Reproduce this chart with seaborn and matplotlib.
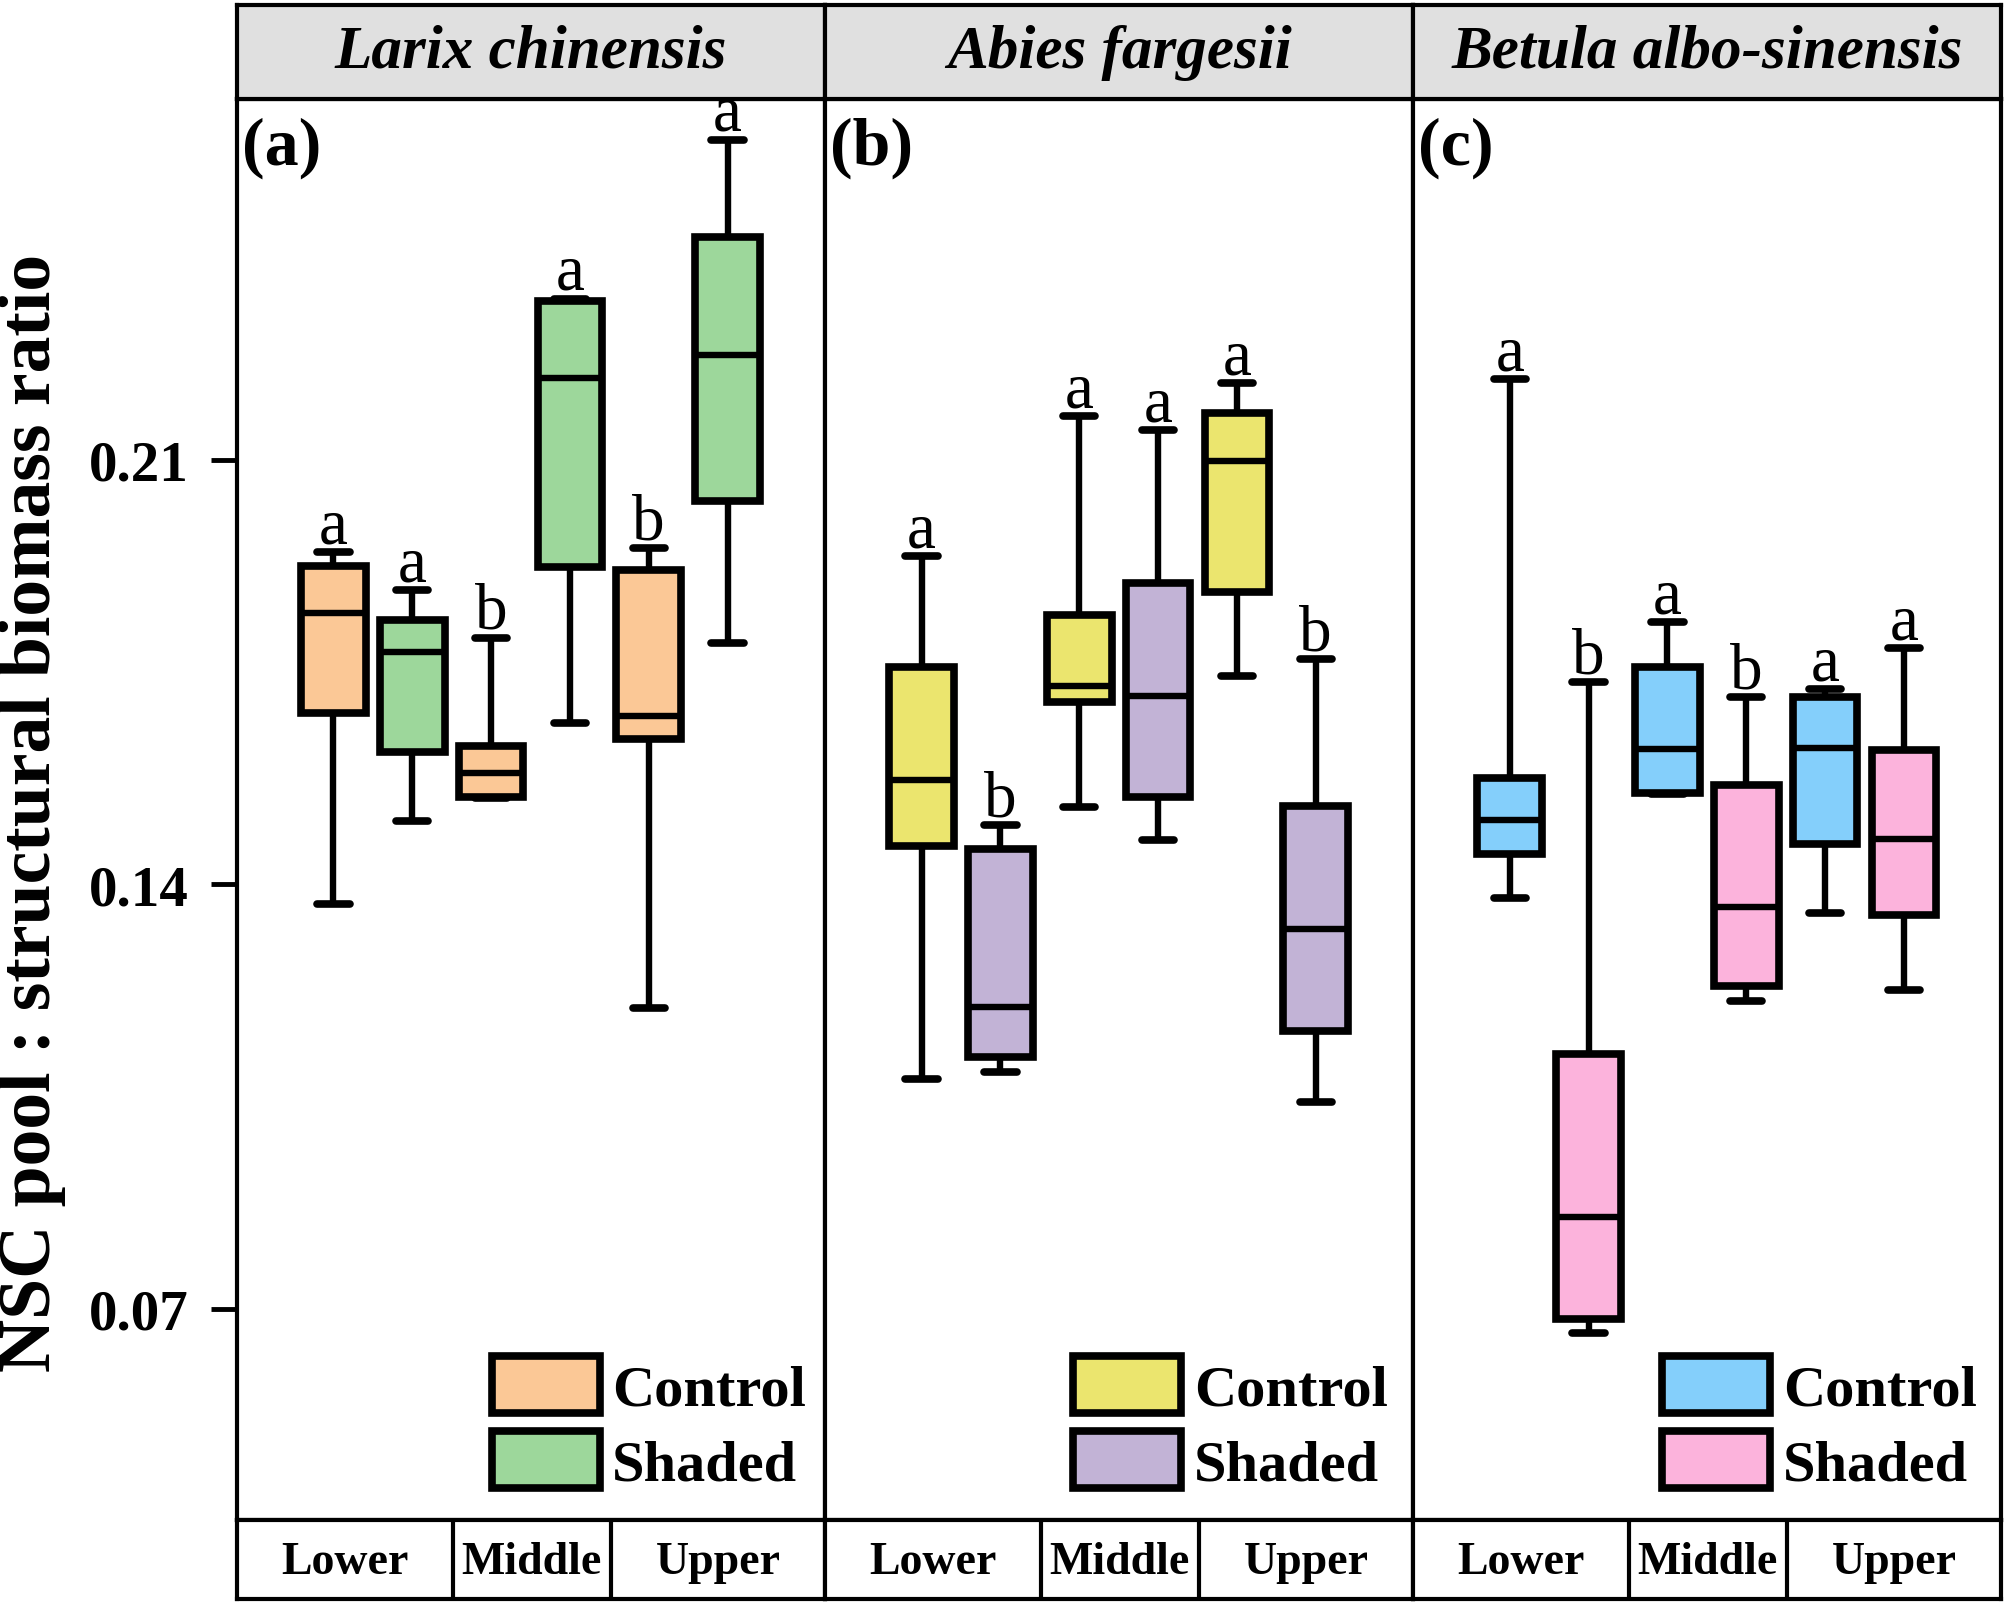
import numpy as np
import pandas as pd
import matplotlib
matplotlib.use("Agg")
import matplotlib.pyplot as plt
import seaborn as sns
from matplotlib.patches import Patch

# ---------------- data (min, Q1, median, Q3, max) ----------------
positions = ["Lower", "Middle", "Upper"]
treatments = ["Control", "Shaded"]
species = ["Larix chinensis", "Abies fargesii", "Betula albo-sinensis"]
panel_tags = ["(a)", "(b)", "(c)"]

larix_control = [[0.1367, 0.1682, 0.1847, 0.1925, 0.1948],
                 [0.1543, 0.1545, 0.1583, 0.1629, 0.1807],
                 [0.1196, 0.1640, 0.1678, 0.1918, 0.1954]]
larix_shaded = [[0.1505, 0.1619, 0.1783, 0.1836, 0.1885],
                [0.1667, 0.1923, 0.2235, 0.2362, 0.2366],
                [0.1798, 0.2032, 0.2273, 0.2467, 0.2628]]
abies_control = [[0.1080, 0.1464, 0.1572, 0.1758, 0.1942],
                 [0.1528, 0.1701, 0.1728, 0.1845, 0.2172],
                 [0.1743, 0.1883, 0.2098, 0.2178, 0.2227]]
abies_shaded = [[0.1091, 0.1116, 0.1198, 0.1458, 0.1498],
                [0.1473, 0.1545, 0.1711, 0.1897, 0.2149],
                [0.1042, 0.1158, 0.1327, 0.1530, 0.1771]]
betula_control = [[0.1378, 0.1450, 0.1507, 0.1576, 0.2233],
                  [0.1549, 0.1551, 0.1623, 0.1758, 0.1832],
                  [0.1353, 0.1467, 0.1625, 0.1709, 0.1722]]
betula_shaded = [[0.0660, 0.0683, 0.0852, 0.1120, 0.1733],
                 [0.1207, 0.1232, 0.1363, 0.1564, 0.1709],
                 [0.1226, 0.1350, 0.1475, 0.1621, 0.1790]]

# significance letters: [control, shaded] per position
larix_letters = [["a", "a"], ["b", "a"], ["b", "a"]]
abies_letters = [["a", "b"], ["a", "a"], ["a", "b"]]
betula_letters = [["a", "b"], ["a", "b"], ["a", "a"]]

larix_colors = ["#FBC896", "#9DD79B"]
abies_colors = ["#EBE56E", "#C2B3D6"]
betula_colors = ["#84CFFB", "#FCB3DC"]

yticks = [0.07, 0.14, 0.21]
ylim = (0.0352, 0.2695)

sets = [
    (larix_control, larix_shaded, larix_letters, larix_colors),
    (abies_control, abies_shaded, abies_letters, abies_colors),
    (betula_control, betula_shaded, betula_letters, betula_colors),
]

# ---------------- style ----------------
sns.set_theme(style="white")
plt.rcParams["font.family"] = ["Liberation Serif", "DejaVu Serif"]
for k in ["text.color", "axes.labelcolor", "xtick.color", "ytick.color",
          "axes.edgecolor"]:
    plt.rcParams[k] = "black"

FW, FH, DPI = 20.08, 16.06, 100
fig = plt.figure(figsize=(FW, FH), dpi=DPI)

left0 = 0.1180
pw = 0.2929
main_bottom, main_top = 0.0529, 0.9377
head_top = 0.9963
strip_bottom = 0.0035
frame_lw = 3.0
box_lw = 5.5

legend_x = [0.433, 0.422, 0.423]

for i, (ctrl, shad, letters, cols) in enumerate(sets):
    x0 = left0 + i * pw
    ax = fig.add_axes([x0, main_bottom, pw, main_top - main_bottom])
    hax = fig.add_axes([x0, main_top, pw, head_top - main_top])
    bax = fig.add_axes([x0, strip_bottom, pw, main_bottom - strip_bottom])

    rows = []
    for p_i, pos in enumerate(positions):
        for t_i, (tr, arr) in enumerate(zip(treatments, [ctrl, shad])):
            for v in arr[p_i]:
                rows.append({"position": pos, "treatment": tr, "value": v})
    df = pd.DataFrame(rows)

    sns.boxplot(data=df, x="position", y="value", hue="treatment",
                order=positions, hue_order=treatments,
                palette=dict(zip(treatments, cols)), saturation=1,
                whis=(0, 100), width=1.0, gap=0.18, dodge=True,
                linecolor="black", linewidth=box_lw, fliersize=0,
                legend=False, ax=ax,
                whiskerprops={"linewidth": 4.6},
                capprops={"linewidth": 5.5, "solid_capstyle": "round"},
                medianprops={"linewidth": 4.6})

    # significance letters
    for p_i in range(len(positions)):
        for t_i, arr in enumerate([ctrl, shad]):
            xpos = p_i + (-0.25 if t_i == 0 else 0.25)
            ymax = arr[p_i][-1]
            ax.annotate(letters[p_i][t_i], (xpos, ymax), xytext=(0, 7),
                        textcoords="offset points", ha="center",
                        va="baseline", fontsize=47, color="black")

    ax.set_xlim(-0.862, 2.868)
    ax.set_ylim(*ylim)
    ax.set_xlabel("")
    ax.set_ylabel("")
    ax.set_xticks([])
    ax.set_facecolor("white")
    for s in ax.spines.values():
        s.set_visible(True)
        s.set_linewidth(frame_lw)
        s.set_color("black")
    if i == 0:
        ax.set_yticks(yticks)
        ax.set_yticklabels([f"{t:.2f}" for t in yticks],
                           fontsize=41, fontweight="bold", color="black")
        ax.tick_params(axis="y", direction="out", length=19, width=3.5,
                       pad=16, left=True, color="black")
    else:
        ax.set_yticks(yticks)
        ax.tick_params(axis="y", left=False, labelleft=False)

    ax.text(0.008, 0.966, panel_tags[i], transform=ax.transAxes,
            ha="left", va="center", fontsize=49, fontweight="bold",
            color="black")

    handles = [Patch(facecolor=c, edgecolor="black", linewidth=box_lw)
               for c in cols]
    leg = ax.legend(handles, treatments, loc="lower left",
                    bbox_to_anchor=(legend_x[i], 0.02), frameon=False,
                    prop={"size": 42, "weight": "bold"},
                    handlelength=1.85, handleheight=1.12,
                    handletextpad=0.22, labelspacing=0.26,
                    borderpad=0, borderaxespad=0)
    for t in leg.get_texts():
        t.set_color("black")

    # header strip
    hax.set_facecolor("#E0E0E0")
    hax.set_xticks([])
    hax.set_yticks([])
    for s in hax.spines.values():
        s.set_linewidth(frame_lw)
        s.set_color("black")
    hax.text(0.5, 0.5, species[i], transform=hax.transAxes, ha="center",
             va="center", fontsize=44, fontweight="bold", fontstyle="italic",
             color="black")

    # bottom strip
    bax.set_facecolor("white")
    bax.set_xticks([])
    bax.set_yticks([])
    bax.set_xlim(0, 1)
    bax.set_ylim(0, 1)
    for s in bax.spines.values():
        s.set_linewidth(frame_lw)
        s.set_color("black")
    for xd in [0.367, 0.636]:
        bax.axvline(xd, color="black", linewidth=frame_lw)
    for xc, lab in zip([0.183, 0.5, 0.818], positions):
        bax.text(xc, 0.47, lab, ha="center", va="center", fontsize=33,
                 fontweight="bold", color="black")

fig.text(0.016, 0.494, "NSC pool : structural biomass ratio", rotation=90,
         ha="center", va="center", fontsize=53, fontweight="bold",
         color="black")

fig.savefig("out.png", dpi=DPI, facecolor="white")
